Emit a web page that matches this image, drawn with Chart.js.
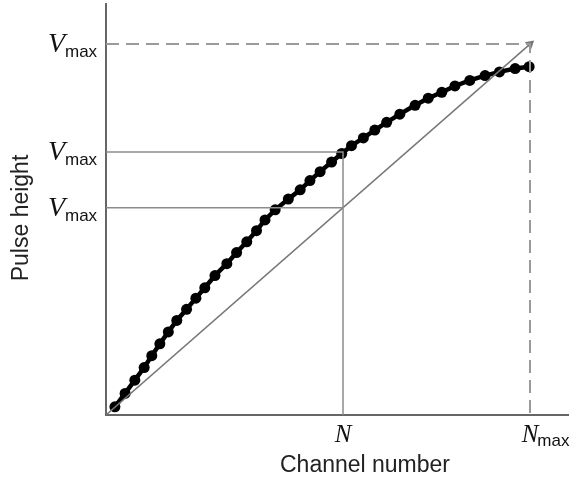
<!DOCTYPE html>
<html>
<head>
<meta charset="utf-8">
<script src="https://cdn.jsdelivr.net/npm/chart.js@4"></script>
<style>
  html, body { margin: 0; padding: 0; background: #fff; }
  #wrap { width: 569px; height: 479px; position: relative; }
</style>
</head>
<body>
<div id="wrap"><canvas id="pulseChart"></canvas></div>
<script>
// curve of measured points (channel number vs pulse height, Nmax = Vmax = 1)
const channelX = [0.021,0.045,0.068,0.090,0.108,0.127,0.147,0.167,0.190,0.212,0.233,0.257,0.285,0.308,0.332,0.355,0.375,0.399,0.430,0.458,0.481,0.505,0.532,0.556,0.579,0.607,0.634,0.662,0.693,0.729,0.760,0.792,0.823,0.858,0.894,0.928,0.965,0.998];
const pulseY = [0.022,0.058,0.094,0.128,0.160,0.192,0.224,0.255,0.285,0.315,0.343,0.376,0.408,0.438,0.467,0.497,0.526,0.553,0.582,0.607,0.632,0.656,0.682,0.705,0.726,0.747,0.768,0.789,0.811,0.835,0.854,0.870,0.887,0.902,0.915,0.925,0.934,0.939];

// reference levels
const nValue = 0.559;
const nMax = 1;
const vMax = 1;
const vCurveAtN = 0.709;
const vLineAtN = 0.559;

// tick labels (main letter + subscript)
const yTickValues = [vMax, vCurveAtN, vLineAtN];
const yTickMain = ['V', 'V', 'V'];
const yTickSub = ['max', 'max', 'max'];
const xTickValues = [nValue, nMax];
const xTickMain = ['N', 'N'];
const xTickSub = ['', 'max'];

const xTitle = 'Channel number';
const yTitle = 'Pulse height';

const sans = "'Liberation Sans', Arial, sans-serif";
const serif = "'Liberation Serif', 'Times New Roman', serif";

const curvePts = channelX.map((x, i) => ({ x: x, y: pulseY[i] }));

const labelPlugin = {
  id: 'labelPlugin',
  afterDraw(c) {
    const ctx = c.ctx;
    const xs = c.scales.x, ys = c.scales.y;
    ctx.save();
    ctx.fillStyle = '#111';
    ctx.textBaseline = 'alphabetic';

    // y tick labels
    yTickValues.forEach((v, i) => {
      const py = ys.getPixelForValue(v);
      ctx.font = 'italic 28px ' + serif;
      ctx.textAlign = 'right';
      ctx.fillText(yTickMain[i], 65, py + 8);
      ctx.font = '17px ' + sans;
      ctx.textAlign = 'left';
      ctx.fillText(yTickSub[i], 65, py + 13);
    });

    // x tick labels
    xTickValues.forEach((v, i) => {
      const px = xs.getPixelForValue(v);
      ctx.font = 'italic 25px ' + serif;
      ctx.textAlign = 'center';
      ctx.fillText(xTickMain[i], px, 442);
      if (xTickSub[i]) {
        const w = ctx.measureText(xTickMain[i]).width;
        ctx.font = '17px ' + sans;
        ctx.textAlign = 'left';
        ctx.fillText(xTickSub[i], px + w / 2 - 1, 446);
      }
    });

    // axis titles
    ctx.font = '23px ' + sans;
    ctx.fillStyle = '#222';
    ctx.textAlign = 'center';
    ctx.fillText(xTitle, 365, 472);
    ctx.translate(28, 218);
    ctx.rotate(-Math.PI / 2);
    ctx.fillText(yTitle, 0, 0);
    ctx.restore();
  }
};

new Chart(document.getElementById('pulseChart'), {
  type: 'line',
  data: {
    datasets: [
      {
        // dashed Vmax / Nmax box
        data: [{ x: 0, y: vMax }, { x: nMax, y: vMax }, { x: nMax, y: 0 }],
        borderColor: '#9a9a9a',
        borderWidth: 2,
        borderDash: [13, 7],
        pointRadius: 0,
        tension: 0
      },
      {
        data: [{ x: 0, y: vCurveAtN }, { x: nValue, y: vCurveAtN }, { x: nValue, y: 0 }],
        borderColor: '#8c8c8c',
        borderWidth: 1.5,
        pointRadius: 0,
        tension: 0
      },
      {
        data: [{ x: 0, y: vLineAtN }, { x: nValue, y: vLineAtN }],
        borderColor: '#8c8c8c',
        borderWidth: 1.5,
        pointRadius: 0,
        tension: 0
      },
      {
        // linear reference with arrow
        data: [{ x: 0, y: 0 }, { x: nMax, y: vMax }],
        borderColor: '#777',
        borderWidth: 1.5,
        pointRadius: [0, 4],
        pointStyle: 'triangle',
        pointRotation: [0, 49],
        pointBackgroundColor: '#777',
        pointBorderColor: '#777',
        tension: 0
      },
      {
        data: curvePts,
        borderColor: '#000',
        borderWidth: 4.5,
        pointRadius: 5.5,
        pointBackgroundColor: '#000',
        pointBorderColor: '#000',
        pointBorderWidth: 0,
        tension: 0
      }
    ]
  },
  options: {
    responsive: true,
    maintainAspectRatio: false,
    animation: false,
    layout: { autoPadding: false, padding: { left: 106, top: 4, right: 0, bottom: 64 } },
    plugins: { legend: { display: false }, tooltip: { enabled: false } },
    scales: {
      x: {
        type: 'linear', min: 0, max: 1.092,
        grid: { display: false, drawTicks: false },
        ticks: { display: false, padding: 0 },
        border: { color: '#666', width: 2 }
      },
      y: {
        type: 'linear', min: 0, max: 1.108,
        grid: { display: false, drawTicks: false },
        ticks: { display: false, padding: 0 },
        border: { color: '#666', width: 2 }
      }
    }
  },
  plugins: [labelPlugin]
});
</script>
</body>
</html>
